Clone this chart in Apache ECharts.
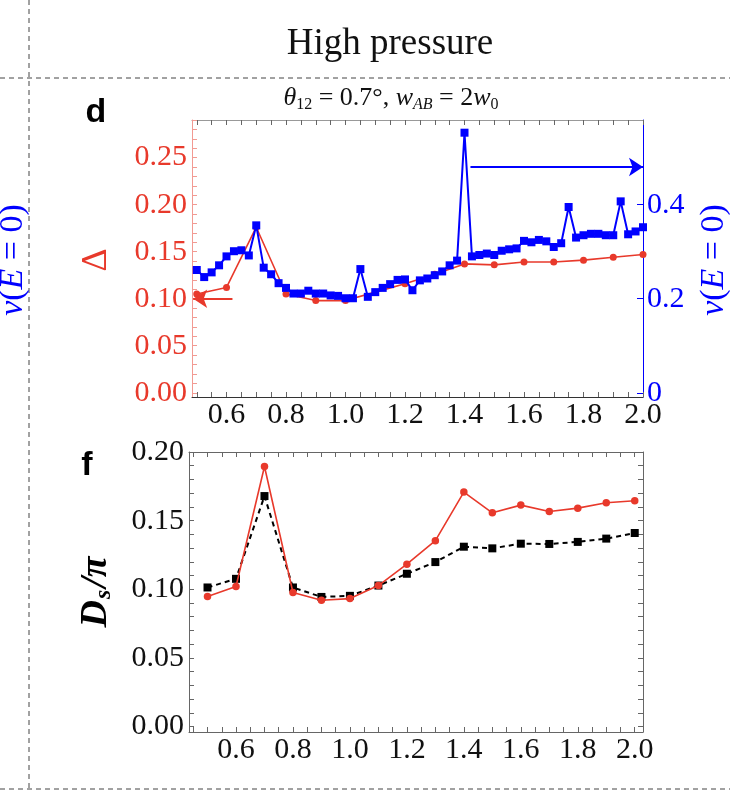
<!DOCTYPE html>
<html><head><meta charset="utf-8">
<script src="https://cdn.jsdelivr.net/npm/echarts@6/dist/echarts.min.js"></script>
<style>html,body{margin:0;padding:0;background:#fff}#c{width:730px;height:792px}</style>
</head><body><div id="c"></div>
<script>
// ---------- data ----------
const xDelta = [0.5,0.6,0.7,0.8,0.9,1.0,1.1,1.2,1.3,1.4,1.5,1.6,1.7,1.8,1.9,2.0];
const deltaValues = [0.105,0.112,0.176,0.105,0.098,0.098,0.107,0.116,0.126,0.137,0.136,0.139,0.139,0.141,0.144,0.147];
const xNu = [0.5,0.525,0.55,0.575,0.6,0.625,0.65,0.675,0.7,0.725,0.75,0.775,0.8,0.825,0.85,0.875,0.9,0.925,0.95,0.975,
  1.0,1.025,1.05,1.075,1.1,1.125,1.15,1.175,1.2,1.225,1.25,1.275,1.3,1.325,1.35,1.375,1.4,1.425,1.45,1.475,
  1.5,1.525,1.55,1.575,1.6,1.625,1.65,1.675,1.7,1.725,1.75,1.775,1.8,1.825,1.85,1.875,1.9,1.925,1.95,1.975,2.0];
const nuValues = [0.261,0.246,0.256,0.271,0.290,0.301,0.303,0.292,0.356,0.266,
  0.252,0.233,0.223,0.211,0.211,0.217,0.211,0.211,0.207,0.206,
  0.201,0.201,0.263,0.204,0.214,0.223,0.231,0.240,0.241,0.218,
  0.239,0.243,0.250,0.258,0.271,0.281,0.553,0.290,0.293,0.296,
  0.293,0.302,0.305,0.307,0.323,0.320,0.325,0.322,0.310,0.318,
  0.395,0.330,0.335,0.338,0.338,0.335,0.335,0.407,0.337,0.343,0.352];
const xDs = [0.5,0.6,0.7,0.8,0.9,1.0,1.1,1.2,1.3,1.4,1.5,1.6,1.7,1.8,1.9,2.0];
const dsRed = [0.0947,0.102,0.1894,0.0976,0.092,0.0932,0.1027,0.1183,0.1354,0.1708,0.1557,0.1613,0.1567,0.1591,0.163,0.1645];
const dsBlack = [0.1013,0.1076,0.1679,0.1013,0.0944,0.0952,0.1027,0.1113,0.1198,0.131,0.1298,0.1332,0.133,0.1345,0.1369,0.141];
// annotation arrows (data coordinates)
const deltaArrow = [[0.62,0.1],[0.488,0.1]];
const nuArrow = [[1.42,0.48],[2.0,0.48]];
// tick labels
const xTickLabels = [0.6,0.8,1.0,1.2,1.4,1.6,1.8,2.0];
const deltaTickLabels = [0,0.05,0.10,0.15,0.20,0.25];
const nuTickLabels = [0,0.2,0.4];
const dsTickLabels = [0,0.05,0.10,0.15,0.20];

// ---------- helpers ----------
function range(a,b,s){const r=[];for(let i=0;a+i*s<=b+1e-9;i++)r.push(+(a+i*s).toFixed(4));return r;}
const RED='#e8392b', BLUE='#0000ff', FRAME='#666';
const SERIF='"Liberation Serif","DejaVu Serif",serif';
const TICKFS=30;

const chart = echarts.init(document.getElementById('c'), null, {renderer:'canvas'});

function xAx(grid, min, max, pos, labels, color){
  return {type:'value', gridIndex:grid, min:min, max:max, position:pos,
    axisLine:{show:true, onZero:false, lineStyle:{color:color||FRAME, width:1}},
    axisTick:{show:true, inside:true, length:5, customValues:range(0.45,2.0,0.05).filter(v=>v>=min&&v<=max), lineStyle:{color:FRAME}},
    axisLabel:labels?{show:true, customValues:xTickLabels, formatter:v=>(+v).toFixed(1), color:'#111', fontFamily:SERIF, fontSize:TICKFS, margin:3}:{show:false},
    splitLine:{show:false}};
}
function arrowSeries(xi, yi, pts, color){
  return {type:'line', xAxisIndex:xi, yAxisIndex:yi, data:[], silent:true,
    markLine:{silent:true, symbol:['none','arrow'], symbolSize:14, label:{show:false},
      lineStyle:{color:color, width:1.8, type:'solid'}, emphasis:{disabled:true},
      data:[[{coord:pts[0]},{coord:pts[1]}]]}};
}

const option = {
  animation:false,
  backgroundColor:'#fff',
  grid:[
    {left:192, top:120, width:451, height:277},
    {left:189, top:452, width:454, height:280}
  ],
  xAxis:[
    xAx(0, 0.484, 2.0, 'bottom', true, '#333'),
    xAx(0, 0.484, 2.0, 'top', false, '#999'),
    xAx(1, 0.435, 2.029, 'bottom', true, FRAME),
    xAx(1, 0.435, 2.029, 'top', false, FRAME)
  ],
  yAxis:[
    {type:'value', gridIndex:0, min:-0.0045, max:0.29, position:'left',
      axisLine:{show:true, onZero:false, lineStyle:{color:'#f29a92'}},
      axisTick:{show:true, inside:true, length:5, customValues:range(0,0.29,0.01), lineStyle:{color:'#f29a92'}},
      axisLabel:{customValues:deltaTickLabels, formatter:v=>(+v).toFixed(2), color:RED, fontFamily:SERIF, fontSize:TICKFS, margin:5},
      splitLine:{show:false}},
    {type:'value', gridIndex:0, min:-0.009, max:0.58, position:'right',
      axisLine:{show:true, onZero:false, lineStyle:{color:BLUE}},
      axisTick:{show:true, inside:true, length:6, customValues:nuTickLabels, lineStyle:{color:BLUE}},
      axisLabel:{customValues:nuTickLabels, formatter:v=>(+v===0?'0':(+v).toFixed(1)), color:BLUE, fontFamily:SERIF, fontSize:TICKFS, margin:4},
      splitLine:{show:false}},
    {type:'value', gridIndex:1, min:-0.004, max:0.2, position:'left',
      axisLine:{show:true, onZero:false, lineStyle:{color:FRAME}},
      axisTick:{show:true, inside:true, length:5, customValues:range(0,0.2,0.01), lineStyle:{color:FRAME}},
      axisLabel:{customValues:dsTickLabels, formatter:v=>(+v).toFixed(2), color:'#111', fontFamily:SERIF, fontSize:TICKFS, margin:5},
      splitLine:{show:false}},
    {type:'value', gridIndex:1, min:-0.004, max:0.2, position:'right',
      axisLine:{show:true, onZero:false, lineStyle:{color:FRAME}},
      axisTick:{show:true, inside:true, length:5, customValues:range(0,0.2,0.01), lineStyle:{color:FRAME}},
      axisLabel:{show:false}, splitLine:{show:false}}
  ],
  series:[
    {type:'line', xAxisIndex:0, yAxisIndex:0, data:xDelta.map((x,i)=>[x,deltaValues[i]]),
      symbol:'circle', symbolSize:7, itemStyle:{color:RED}, lineStyle:{color:RED, width:1.6}, z:2},
    {type:'line', xAxisIndex:0, yAxisIndex:1, data:xNu.map((x,i)=>[x,nuValues[i]]),
      symbol:'rect', symbolSize:8, itemStyle:{color:BLUE}, lineStyle:{color:BLUE, width:2}, z:3},
    arrowSeries(0, 0, deltaArrow, RED),
    arrowSeries(0, 1, nuArrow, BLUE),
    {type:'line', xAxisIndex:2, yAxisIndex:2, data:xDs.map((x,i)=>[x,dsBlack[i]]),
      symbol:'rect', symbolSize:8, itemStyle:{color:'#000'}, lineStyle:{color:'#000', width:2, type:[5,4]}, z:2},
    {type:'line', xAxisIndex:2, yAxisIndex:2, data:xDs.map((x,i)=>[x,dsRed[i]]),
      symbol:'circle', symbolSize:7.5, itemStyle:{color:RED}, lineStyle:{color:RED, width:1.6}, z:3}
  ],
  graphic:[
    {type:'line', shape:{x1:0,y1:78,x2:730,y2:78}, style:{stroke:'#444', lineWidth:1, lineDash:[5,4]}, silent:true},
    {type:'line', shape:{x1:29,y1:0,x2:29,y2:792}, style:{stroke:'#444', lineWidth:1, lineDash:[5,4]}, silent:true},
    {type:'line', shape:{x1:0,y1:789,x2:730,y2:789}, style:{stroke:'#444', lineWidth:1, lineDash:[5,4]}, silent:true},
    {type:'text', x:390, y:44, style:{text:'High pressure', font:'37px '+SERIF, fill:'#111', align:'center', verticalAlign:'middle'}},
    {type:'text', x:391, y:98, style:{
      text:'{i|θ}{d|12}{n| = 0.7°, }{i|w}{s|AB}{n| = 2}{i|w}{d|0}',
      align:'center', verticalAlign:'middle', fill:'#111',
      rich:{
        i:{fontFamily:SERIF, fontStyle:'italic', fontSize:26, fill:'#111'},
        n:{fontFamily:SERIF, fontSize:26, fill:'#111'},
        s:{fontFamily:SERIF, fontStyle:'italic', fontSize:16, fill:'#111', padding:[13,0,0,0]},
        d:{fontFamily:SERIF, fontSize:16, fill:'#111', padding:[13,0,0,0]}
      }}},
    {type:'text', x:96, y:113, style:{text:'d', font:'bold 34px "Liberation Sans",Arial,sans-serif', fill:'#000', align:'center', verticalAlign:'middle'}},
    {type:'text', x:87, y:466, style:{text:'f', font:'bold 34px "Liberation Sans",Arial,sans-serif', fill:'#000', align:'center', verticalAlign:'middle'}},
    {type:'text', x:97, y:260, rotation:Math.PI/2, style:{text:'Δ', font:'36px '+SERIF, fill:RED, align:'center', verticalAlign:'middle'}},
    {type:'text', x:13, y:260, rotation:Math.PI/2, style:{
      text:'{i|ν}{n|(}{i|E}{n| = 0)}', align:'center', verticalAlign:'middle',
      rich:{i:{fontFamily:SERIF, fontStyle:'italic', fontSize:34, fill:BLUE}, n:{fontFamily:SERIF, fontSize:34, fill:BLUE}}}},
    {type:'text', x:714, y:260, rotation:Math.PI/2, style:{
      text:'{i|ν}{n|(}{i|E}{n| = 0)}', align:'center', verticalAlign:'middle',
      rich:{i:{fontFamily:SERIF, fontStyle:'italic', fontSize:34, fill:BLUE}, n:{fontFamily:SERIF, fontSize:34, fill:BLUE}}}},
    {type:'text', x:96, y:592, rotation:Math.PI/2, style:{
      text:'{D|D}{s|s}{D|/π}', align:'center', verticalAlign:'middle',
      rich:{D:{fontFamily:SERIF, fontStyle:'italic', fontWeight:'bold', fontSize:38, fill:'#000'},
            s:{fontFamily:SERIF, fontStyle:'italic', fontWeight:'bold', fontSize:24, fill:'#000', padding:[15,2,0,1]}}}}
  ]
};
chart.setOption(option);
</script></body></html>
